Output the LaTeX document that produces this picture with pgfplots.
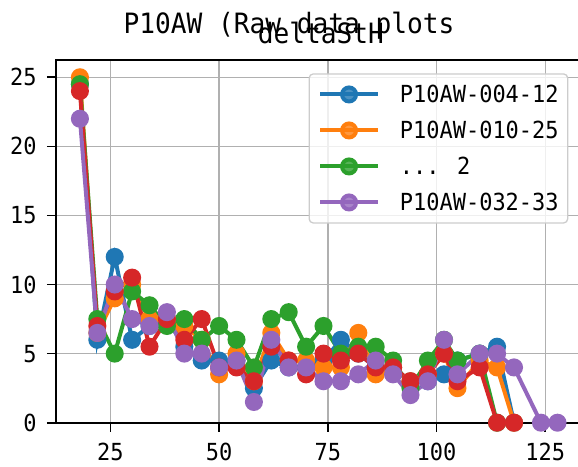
\documentclass[border=0pt]{standalone}
\usepackage{fontspec}
\setmainfont{DejaVu Sans Mono}[FakeStretch=0.935]
\usepackage{pgfplots}
\pgfplotsset{compat=1.18}
\definecolor{tabblue}{HTML}{1F77B4}
\definecolor{taborange}{HTML}{FF7F0E}
\definecolor{tabgreen}{HTML}{2CA02C}
\definecolor{tabred}{HTML}{D62728}
\definecolor{tabpurple}{HTML}{9467BD}
\definecolor{gridgray}{HTML}{B0B0B0}
\definecolor{leggray}{HTML}{CCCCCC}
\newcommand{\basefont}{\fontsize{23.5}{28}\selectfont}
\newcommand{\titlefont}{\fontsize{28}{33}\selectfont}
\begin{document}
\begin{tikzpicture}
\begin{axis}[
  scale only axis,
  width=526.3pt, height=362.7pt,
  xmin=12.5, xmax=133.5, ymin=0, ymax=26.25,
  xtick={25,50,75,100,125}, ytick={0,5,10,15,20,25},
  grid=major,
  major grid style={line width=1.3pt, draw=gridgray},
  axis line style={line width=2pt, black},
  tick align=outside, tick pos=left,
  major tick length=9pt,
  every tick/.style={line width=1.7pt, black},
  /pgf/number format/assume math mode=true,
  ticklabel style={font=\basefont},
  yticklabel style={anchor=east, inner sep=0pt, xshift=-10.3pt},
  xticklabel style={anchor=north, inner sep=0pt, yshift=-11.6pt},
  legend cell align=left,
  legend style={at={(0.9734,0.9633)}, anchor=north east,
    draw=leggray, line width=1.3pt, rounded corners=4pt,
    fill=white, fill opacity=0.8, text opacity=1,
    inner xsep=9pt, inner ysep=12pt, row sep=19pt, column sep=20pt,
    font=\basefont,
    nodes={inner sep=0pt, text height=17pt, text depth=0pt, anchor=west}},
  legend image code/.code={\draw[mark repeat=2,mark phase=2,#1] plot coordinates {(0pt,0pt) (28.85pt,0pt) (57.7pt,0pt)};},
  every axis plot/.append style={line width=4pt, mark=*, mark size=7pt},
]
\addplot[tabblue, mark options={draw=none, fill=tabblue}] coordinates {
(18,24.5) (22,6) (26,12) (30,6) (34,7) (38,7.5) (42,5.5) (46,4.5) (50,4.5) (54,4.5)
(58,2.5) (62,4.5) (66,4) (70,4) (74,4.5) (78,6) (82,5) (86,4) (90,4) (94,3)
(98,3) (101.7,3.5) (104.8,4.5) (109.9,5) (113.9,5.5) (117.8,0)};
\addlegendentry{P10AW-004-12}
\addplot[taborange, mark options={draw=none, fill=taborange}] coordinates {
(18,25) (22,6.5) (26,9) (30,10) (34,7.5) (38,7.5) (42,7) (46,6) (50,3.5) (54,5)
(58,3) (62,6.5) (66,4.5) (70,4.5) (74,4) (78,4) (82,6.5) (86,3.5) (90,4) (94,3)
(98,3.5) (101.7,5) (104.8,2.5) (109.9,4.5) (113.9,4) (117.8,0)};
\addlegendentry{P10AW-010-25}
\addplot[tabgreen, mark options={draw=none, fill=tabgreen}] coordinates {
(18,24.5) (22,7.5) (26,5) (30,9.5) (34,8.5) (38,7) (42,7.5) (46,6) (50,7) (54,6)
(58,4) (62,7.5) (66,8) (70,5.5) (74,7) (78,5) (82,5.5) (86,5.5) (90,4.5) (94,2.5)
(98,4.5) (101.7,6) (104.8,4.5) (109.9,5) (113.9,0)};
\addlegendentry{... 2}
\addplot[tabred, mark options={draw=none, fill=tabred}, forget plot] coordinates {
(18,24) (22,7) (26,9.5) (30,10.5) (34,5.5) (38,7.5) (42,6) (46,7.5) (50,4) (54,4)
(58,3) (62,5.5) (66,4.5) (70,3.5) (74,5) (78,4.5) (82,5) (86,4) (90,4) (94,3)
(98,3.5) (101.7,5) (104.8,3) (109.9,4) (113.9,0) (117.8,0)};
\addplot[tabpurple, mark options={draw=none, fill=tabpurple}] coordinates {
(18,22) (22,6.5) (26,10) (30,7.5) (34,7) (38,8) (42,5) (46,5) (50,4) (54,4.5)
(58,1.5) (62,6) (66,4) (70,4) (74,3) (78,3) (82,3.5) (86,4.5) (90,3.5) (94,2)
(98,3) (101.7,6) (104.8,3.5) (109.9,5) (113.9,5) (117.8,4) (124,0) (127.8,0)};
\addlegendentry{P10AW-032-33}
\end{axis}
\node[anchor=base west, inner sep=0pt, font=\titlefont] at ([shift={(67.3pt,389.4pt)}]current axis.south west) {P10AW (Raw data plots};
\node[anchor=base, inner sep=0pt, font=\titlefont] at ([shift={(264.8pt,379.4pt)}]current axis.south west) {deltaStH};
\pgfresetboundingbox
\path[use as bounding box] ([shift={(-56pt,-43.3pt)}]current axis.south west) rectangle ++(578pt,466pt);
\end{tikzpicture}
\end{document}
